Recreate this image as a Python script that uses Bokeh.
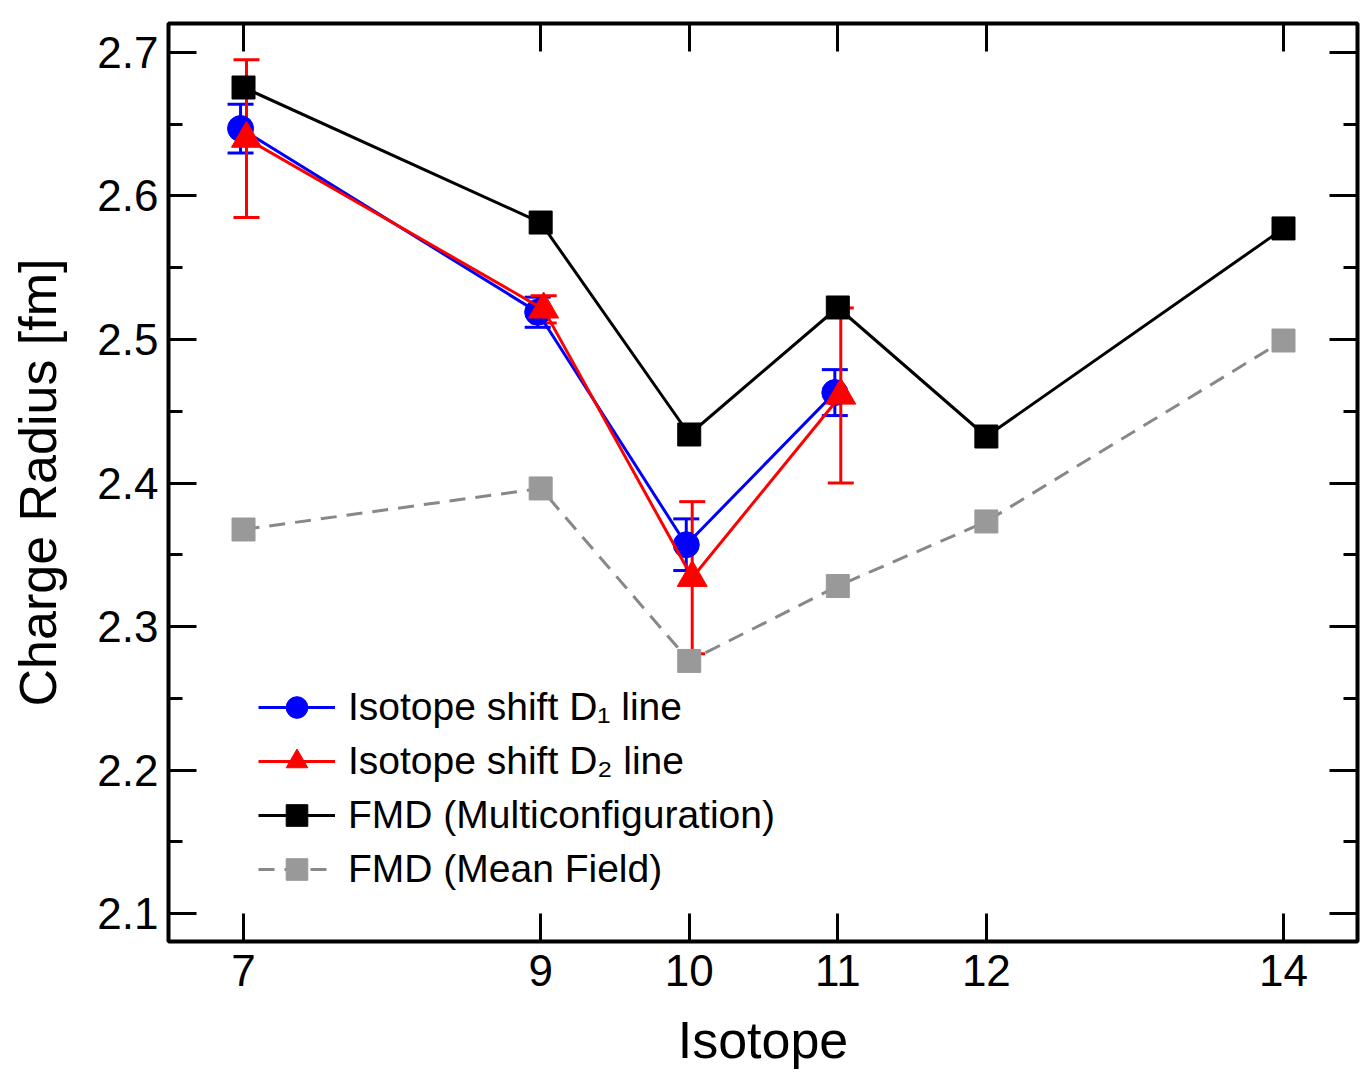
from bokeh.plotting import figure
from bokeh.models import (ColumnDataSource, Whisker, TeeHead, LinearAxis, FixedTicker,
                          SingleIntervalTicker, Legend, LegendItem, Range1d,
                          CustomLabelingPolicy)
from bokeh.embed import file_html
from bokeh.resources import INLINE

# ---- data ----
isotopes_exp = [7, 9, 10, 11]
d1_radius = [2.647, 2.519, 2.357, 2.463]
d1_err = [0.017, 0.0105, 0.018, 0.016]
d2_radius = [2.640, 2.521, 2.334, 2.461]
d2_err = [0.055, 0.0095, 0.053, 0.061]

isotopes_fmd = [7, 9, 10, 11, 12, 14]
fmd_multi = [2.6756, 2.5815, 2.4338, 2.5223, 2.4324, 2.5774]
fmd_mean = [2.3676, 2.3962, 2.2760, 2.3282, 2.3732, 2.4993]

x_tick_values = [7, 9, 10, 11, 12, 14]
labels = ["Isotope shift D\u2081 line", "Isotope shift D\u2082 line",
          "FMD (Multiconfiguration)", "FMD (Mean Field)"]

FONT = "Liberation Sans"
D1_SHIFT = -0.02
D2_SHIFT = 0.02

p = figure(width=1362, height=1087,
           x_range=Range1d(6.495, 14.498), y_range=Range1d(2.0805, 2.7202),
           output_backend="svg", toolbar_location=None,
           min_border_left=168, min_border_right=5, min_border_top=23, min_border_bottom=146)
p.grid.visible = False
p.outline_line_color = "black"
p.outline_line_width = 4
p.background_fill_color = "white"
p.border_fill_color = "white"

def style_axis(ax, label_size="44px"):
    ax.axis_line_color = None
    ax.major_tick_in = 28
    ax.major_tick_out = 0
    ax.minor_tick_in = 14
    ax.minor_tick_out = 0
    ax.major_tick_line_width = 3
    ax.minor_tick_line_width = 3
    ax.major_tick_line_color = "black"
    ax.minor_tick_line_color = "black"
    ax.major_label_text_font = FONT
    ax.major_label_text_font_size = label_size
    ax.major_label_text_color = "black"
    ax.axis_label_text_font = FONT
    ax.axis_label_text_font_style = "normal"
    ax.axis_label_text_font_size = "52px"
    ax.axis_label_text_color = "black"

# bottom axis
xb = p.xaxis[0]
xb.ticker = FixedTicker(ticks=x_tick_values, minor_ticks=[])
style_axis(xb)
xb.axis_label = "Isotope"
xb.major_label_standoff = 13
xb.axis_label_standoff = 22

# left axis
yl = p.yaxis[0]
yl.ticker = SingleIntervalTicker(interval=0.1, num_minor_ticks=2)
style_axis(yl)
yl.axis_label = "Charge Radius [fm]"
yl.major_label_standoff = 10
yl.axis_label_standoff = 27

# top and right axes (ticks only, no labels)
no_labels = CustomLabelingPolicy(code="for (const i of indices) { indices.unset(i) }\nreturn indices")

xt = LinearAxis(ticker=FixedTicker(ticks=x_tick_values, minor_ticks=[]))
style_axis(xt)
xt.major_label_text_color = None
xt.major_label_policy = no_labels
xt.major_label_standoff = 0
p.add_layout(xt, "above")
yr = LinearAxis(ticker=SingleIntervalTicker(interval=0.1, num_minor_ticks=2))
style_axis(yr)
yr.major_label_text_color = None
yr.major_label_policy = no_labels
yr.major_label_standoff = 0
p.add_layout(yr, "right")

# sources
src_d1 = ColumnDataSource(dict(
    x=[v + D1_SHIFT for v in isotopes_exp], y=d1_radius,
    lo=[a - b for a, b in zip(d1_radius, d1_err)],
    hi=[a + b for a, b in zip(d1_radius, d1_err)]))
src_d2 = ColumnDataSource(dict(
    x=[v + D2_SHIFT for v in isotopes_exp], y=d2_radius,
    lo=[a - b for a, b in zip(d2_radius, d2_err)],
    hi=[a + b for a, b in zip(d2_radius, d2_err)]))
src_multi = ColumnDataSource(dict(x=isotopes_fmd, y=fmd_multi))
src_mean = ColumnDataSource(dict(x=isotopes_fmd, y=fmd_mean))

BLUE = "#0000ff"
RED = "#ff0000"
GRAY_L = "#888888"
GRAY_M = "#999999"

# error bars
for src, col in ((src_d1, BLUE), (src_d2, RED)):
    w = Whisker(source=src, base="x", lower="lo", upper="hi", dimension="height",
                line_color=col, line_width=3,
                upper_head=TeeHead(size=26, line_color=col, line_width=3),
                lower_head=TeeHead(size=26, line_color=col, line_width=3))
    p.add_layout(w)

# mean field (gray dashed)
l_mean = p.line("x", "y", source=src_mean, line_color=GRAY_L, line_width=3, line_dash="16 10")
s_mean = p.scatter("x", "y", source=src_mean, marker="square", size=23,
                   fill_color=GRAY_M, line_color=GRAY_M)

# D1 (blue)
l_d1 = p.line("x", "y", source=src_d1, line_color=BLUE, line_width=3)
s_d1 = p.scatter("x", "y", source=src_d1, marker="circle", size=26,
                 fill_color=BLUE, line_color=BLUE)

# D2 (red)
l_d2 = p.line("x", "y", source=src_d2, line_color=RED, line_width=3)
s_d2 = p.scatter("x", "y", source=src_d2, marker="triangle", size=30,
                 fill_color=RED, line_color=RED)

# FMD multiconfiguration (black)
l_multi = p.line("x", "y", source=src_multi, line_color="black", line_width=3)
s_multi = p.scatter("x", "y", source=src_multi, marker="square", size=23,
                    fill_color="black", line_color="black")

legend = Legend(items=[
    LegendItem(label=labels[0], renderers=[l_d1, s_d1]),
    LegendItem(label=labels[1], renderers=[l_d2, s_d2]),
    LegendItem(label=labels[2], renderers=[l_multi, s_multi]),
    LegendItem(label=labels[3], renderers=[l_mean, s_mean]),
], location=(90, 45))
legend.background_fill_alpha = 0
legend.border_line_color = None
legend.padding = 0
legend.margin = 0
legend.spacing = 0
legend.glyph_width = 77
legend.glyph_height = 54
legend.label_height = 54
legend.label_standoff = 13
legend.label_text_font = FONT
legend.label_text_font_size = "39px"
legend.label_text_color = "black"
p.add_layout(legend)

open("out.html", "w").write(file_html(p, INLINE))
